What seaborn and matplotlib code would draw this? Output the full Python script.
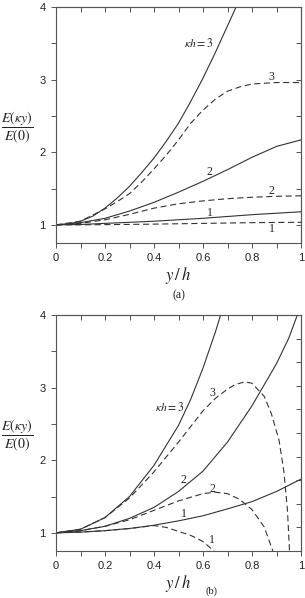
import numpy as np
import pandas as pd
import matplotlib
matplotlib.use("Agg")
import matplotlib.pyplot as plt
import seaborn as sns

# panel (a): values
a_x = [0, 0.1, 0.2, 0.3, 0.4, 0.5, 0.6, 0.7, 0.8, 0.9, 1.0]
a_solid1 = [1, 1.005, 1.02, 1.035, 1.05, 1.07, 1.09, 1.115, 1.14, 1.16, 1.18]
a_dash1 = [1, 1.0, 1.003, 1.006, 1.01, 1.015, 1.02, 1.025, 1.03, 1.033, 1.035]
a_solid2 = [1, 1.03, 1.09, 1.19, 1.31, 1.45, 1.6, 1.76, 1.93, 2.08, 2.17]
a_dash2 = [1, 1.02, 1.07, 1.145, 1.23, 1.29, 1.33, 1.36, 1.38, 1.393, 1.40]
a_xd3 = [0, 0.1, 0.2, 0.25, 0.3, 0.35, 0.4, 0.45, 0.5, 0.55, 0.6, 0.65,
         0.7, 0.75, 0.8, 0.9, 1.0]
a_dash3 = [1, 1.05, 1.22, 1.32, 1.43, 1.59, 1.77, 1.96, 2.17, 2.40, 2.58,
           2.73, 2.84, 2.90, 2.94, 2.96, 2.96]
a_xs3 = [0, 0.05, 0.1, 0.15, 0.2, 0.25, 0.3, 0.35, 0.4, 0.45, 0.5, 0.55,
         0.6, 0.65, 0.7, 0.735]
a_solid3 = [1, 1.01, 1.05, 1.12, 1.23, 1.37, 1.53, 1.72, 1.92, 2.15, 2.4,
            2.7, 3.02, 3.37, 3.74, 4.0]

# panel (b)
b_x = [0, 0.1, 0.2, 0.3, 0.4, 0.5, 0.6, 0.7, 0.8, 0.9, 1.0]
b_solid1 = [1, 1.01, 1.03, 1.06, 1.105, 1.165, 1.235, 1.33, 1.43, 1.57, 1.74]
b_xd1 = [0, 0.1, 0.2, 0.3, 0.4, 0.45, 0.5, 0.55, 0.6, 0.645]
b_dash1 = [1, 1.01, 1.03, 1.06, 1.1, 1.075, 1.02, 0.965, 0.88, 0.75]
b_xs2 = [0, 0.1, 0.2, 0.3, 0.4, 0.5, 0.6, 0.7, 0.8, 0.9, 0.95, 0.985]
b_solid2 = [1, 1.03, 1.09, 1.2, 1.35, 1.57, 1.85, 2.25, 2.75, 3.33, 3.68, 4.0]
b_xd2 = [0, 0.1, 0.2, 0.3, 0.4, 0.5, 0.6, 0.65, 0.7, 0.75, 0.8, 0.85, 0.885]
b_dash2 = [1, 1.03, 1.09, 1.18, 1.31, 1.44, 1.54, 1.56, 1.54, 1.46, 1.32, 1.08, 0.75]
b_xs3 = [0, 0.1, 0.2, 0.3, 0.4, 0.5, 0.55, 0.6, 0.65, 0.672]
b_solid3 = [1, 1.05, 1.21, 1.5, 1.93, 2.48, 2.84, 3.27, 3.76, 4.0]
b_xd3 = [0, 0.1, 0.2, 0.3, 0.4, 0.5, 0.6, 0.65, 0.7, 0.73, 0.77, 0.8, 0.85,
         0.88, 0.91, 0.93, 0.945, 0.953]
b_dash3 = [1, 1.05, 1.21, 1.48, 1.84, 2.25, 2.68, 2.85, 2.98, 3.04, 3.08,
           3.06, 2.88, 2.63, 2.28, 1.85, 1.3, 0.75]

x_ticks = [0, 0.2, 0.4, 0.6, 0.8, 1]
x_tick_labels = ["0", "0.2", "0.4", "0.6", "0.8", "1"]
y_ticks = [1, 2, 3, 4]

sns.set_style("ticks")
plt.rcParams["font.family"] = ["Liberation Sans", "DejaVu Sans"]
plt.rcParams["mathtext.fontset"] = "stix"

line_col = "#333333"
spine_col = "#555555"
txt_col = "#222222"
lw = 0.8
dash = (5.5, 3.2)

fig = plt.figure(figsize=(3.05, 5.98), dpi=100)
ax_a = fig.add_axes([56 / 305, 1 - 243 / 598, 245 / 305, 236 / 598])
ax_b = fig.add_axes([56 / 305, 1 - 551 / 598, 245 / 305, 236 / 598])


def draw_curve(ax, xs, ys, dashed):
    sns.lineplot(x=xs, y=ys, ax=ax, color=line_col, lw=lw, sort=False)
    if dashed:
        ax.lines[-1].set_dashes(dash)


def style_axes(ax, right_ticks):
    ax.set_xlim(0, 1)
    ax.set_ylim(0.75, 4)
    ax.set_xticks(x_ticks)
    ax.set_xticklabels(x_tick_labels)
    ax.set_xticks(np.arange(0.1, 1.0, 0.2), minor=True)
    ax.set_yticks(y_ticks)
    ax.set_yticks([1.5, 2.5, 3.5], minor=True)
    ax.tick_params(which="both", direction="out", length=3.5, width=0.7,
                   color=spine_col, labelsize=8, labelcolor=txt_col, pad=4)
    for s in ax.spines.values():
        s.set_color(spine_col)
        s.set_linewidth(0.8)
        s.set_visible(True)
    top = ax.secondary_xaxis("top")
    top.set_xticks(np.arange(0, 1.01, 0.1))
    top.tick_params(direction="in", length=3.5, width=0.7, color=spine_col,
                    labeltop=False)
    top.spines["top"].set_color(spine_col)
    top.spines["top"].set_linewidth(0.8)
    right = ax.secondary_yaxis("right")
    right.set_yticks(right_ticks)
    right.tick_params(direction="in", length=3.5, width=0.7, color=spine_col,
                      labelright=False)
    right.spines["right"].set_color(spine_col)
    right.spines["right"].set_linewidth(0.8)
    ax.set_xlabel(r"$y\,/\,h$", fontsize=12, color=txt_col, labelpad=1)
    ax.set_ylabel("")
    ax.text(-0.16, 2.35, r"$\dfrac{E(\kappa y)}{E(0)}$",
            transform=ax.get_yaxis_transform(), fontsize=10, color=txt_col,
            ha="center", va="center")


# panel (a)
draw_curve(ax_a, a_xs3, a_solid3, False)
draw_curve(ax_a, a_xd3, a_dash3, True)
draw_curve(ax_a, a_x, a_solid2, False)
draw_curve(ax_a, a_x, a_dash2, True)
draw_curve(ax_a, a_x, a_solid1, False)
draw_curve(ax_a, a_x, a_dash1, True)
style_axes(ax_a, [1, 1.5, 2, 2.5, 3, 3.5])

lab_kw = dict(fontsize=8.5, color=txt_col, family="Liberation Serif",
              ha="center", va="center")
ax_a.text(0.645, 3.5, r"$\kappa h = 3$", fontsize=8.5, color=txt_col,
          ha="right", va="center")
ax_a.text(0.88, 3.03, "3", **lab_kw)
ax_a.text(0.628, 1.73, "2", **lab_kw)
ax_a.text(0.88, 1.47, "2", **lab_kw)
ax_a.text(0.63, 1.17, "1", **lab_kw)
ax_a.text(0.88, 0.94, "1", **lab_kw)

# panel (b)
draw_curve(ax_b, b_xs3, b_solid3, False)
draw_curve(ax_b, b_xd3, b_dash3, True)
draw_curve(ax_b, b_xs2, b_solid2, False)
draw_curve(ax_b, b_xd2, b_dash2, True)
draw_curve(ax_b, b_x, b_solid1, False)
draw_curve(ax_b, b_xd1, b_dash1, True)
style_axes(ax_b, np.linspace(0.75, 4, 11)[1:-1])

ax_b.text(0.525, 2.72, r"$\kappa h = 3$", fontsize=8.5, color=txt_col,
          ha="right", va="center")
ax_b.text(0.64, 2.92, "3", **lab_kw)
ax_b.text(0.52, 1.73, "2", **lab_kw)
ax_b.text(0.64, 1.61, "2", **lab_kw)
ax_b.text(0.52, 1.26, "1", **lab_kw)
ax_b.text(0.635, 0.9, "1", **lab_kw)

fig.text(178.5 / 305, 1 - 295 / 598, "(a)", fontsize=8.5, color=txt_col,
         family="Liberation Serif", ha="center", va="center")
fig.text(212 / 305, 0.004, "(b)", fontsize=7.5, color=txt_col,
         family="Liberation Serif", ha="center", va="bottom")

fig.savefig("out.png", dpi=100)
